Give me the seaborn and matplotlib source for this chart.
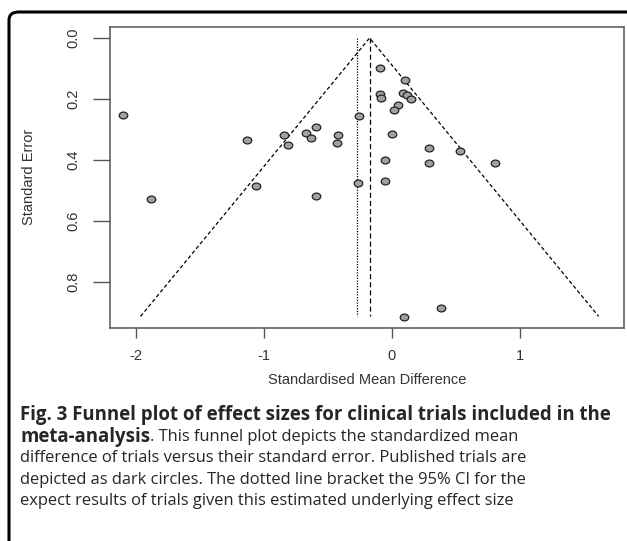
import numpy as np
import pandas as pd
import seaborn as sns
import matplotlib.pyplot as plt
from matplotlib.path import Path
from matplotlib.patches import FancyBboxPatch

# Trial effect sizes (SMD) and standard errors
smd = [-2.103, -1.131, -1.881, -1.059, -0.844, -0.816, -0.669, -0.631,
       -0.597, -0.591, -0.422, -0.431, -0.256, -0.266, -0.097, -0.097,
       -0.084, 0.100, 0.088, 0.119, 0.147, 0.050, 0.019, 0.000,
       -0.056, -0.056, 0.288, 0.288, 0.534, 0.803, 0.384, 0.094]
se = [0.251, 0.336, 0.529, 0.484, 0.318, 0.352, 0.310, 0.327,
      0.293, 0.518, 0.318, 0.344, 0.257, 0.475, 0.097, 0.185,
      0.196, 0.137, 0.181, 0.188, 0.199, 0.221, 0.237, 0.314,
      0.400, 0.470, 0.361, 0.411, 0.369, 0.411, 0.884, 0.916]

pooled = -0.175      # dashed line / funnel apex
alt_estimate = -0.275  # dotted line
se_max = 0.913
z = 1.96

x_ticks = [-2, -1, 0, 1]
y_ticks = [0.0, 0.2, 0.4, 0.6, 0.8]

df = pd.DataFrame({"SMD": smd, "SE": se})

sns.set_style("white")
plt.rcParams["font.family"] = ["Liberation Sans", "DejaVu Sans"]

fig = plt.figure(figsize=(6.27, 5.41), dpi=100)
ax = fig.add_axes([110 / 627, 1 - 328 / 541, (624 - 110) / 627, (328 - 27) / 541])

# slightly wide ellipse marker, like the stretched original
circ = Path.unit_circle()
ellipse = Path(circ.vertices * np.array([1.25, 1.0]), circ.codes)

# funnel
ax.plot([pooled - z * se_max, pooled, pooled + z * se_max], [se_max, 0, se_max],
        color="black", lw=0.9, ls=(0, (3, 2)))
ax.plot([pooled, pooled], [0, se_max], color="black", lw=0.9, ls=(0, (4, 2.5)))
ax.plot([alt_estimate, alt_estimate], [0, se_max], color="black", lw=0.9,
        ls=(0, (1, 1.2)))

sns.scatterplot(data=df, x="SMD", y="SE", ax=ax, marker=ellipse, s=38,
                color="#a0a0a0", edgecolor="#222222", linewidth=0.9, zorder=3)

ax.set_xlim(-2.203, 1.8125)
ax.set_ylim(0.951, -0.036)
ax.set_xticks(x_ticks)
ax.set_xticklabels([str(t) for t in x_ticks])
ax.set_yticks(y_ticks)
ax.set_yticklabels([f"{t:.1f}" for t in y_ticks], rotation=90, va="center")

for s in ax.spines.values():
    s.set_color("#555555")
    s.set_linewidth(1.1)

ax.tick_params(axis="x", length=7, width=1, color="#555555", pad=8,
               labelsize=10.5, labelcolor="#333333", bottom=True)
ax.tick_params(axis="y", length=12, width=1, color="#555555", pad=9.5,
               labelsize=10.5, labelcolor="#333333", left=True)

ax.set_xlabel("Standardised Mean Difference", fontsize=10.5, color="#333333")
ax.set_ylabel("Standard Error", fontsize=10.5, color="#333333")
ax.xaxis.set_label_coords(0.5 * (110 + 624) / 627, 1 - 373 / 541,
                          transform=fig.transFigure)
ax.yaxis.set_label_coords(36 / 627, 1 - 177 / 541, transform=fig.transFigure)

# caption
cap_font = ["Open Sans", "DejaVu Sans"]
reg_size = 11.9
bold_size = 13.4
x0 = 20 / 627
fig.text(x0, 1 - 415 / 541,
         "Fig. 3 Funnel plot of effect sizes for clinical trials included in the",
         fontsize=bold_size, fontweight="bold", family=cap_font, va="center")
meta = fig.text(x0, 1 - 437 / 541, "meta-analysis", fontsize=bold_size,
                fontweight="bold", family=cap_font, va="center")
fig.canvas.draw()
bb = meta.get_window_extent(renderer=fig.canvas.get_renderer())
fig.text(bb.x1 / fig.bbox.width, 1 - 437 / 541,
         ". This funnel plot depicts the standardized mean",
         fontsize=reg_size, family=cap_font, va="center")
rest = [
    "difference of trials versus their standard error. Published trials are",
    "depicted as dark circles. The dotted line bracket the 95% CI for the",
    "expect results of trials given this estimated underlying effect size",
]
for i, line in enumerate(rest):
    fig.text(x0, 1 - (458 + 21.5 * i) / 541, line, fontsize=reg_size,
             family=cap_font, va="center")

# outer rounded frame
frame = FancyBboxPatch((9 / 627, -20 / 541), 640 / 627, (541 - 12 + 20) / 541,
                       boxstyle="round,pad=0,rounding_size=0.015",
                       transform=fig.transFigure, fill=False,
                       edgecolor="black", linewidth=2.2, clip_on=False)
fig.patches.append(frame)

fig.savefig("out.png", dpi=100)
